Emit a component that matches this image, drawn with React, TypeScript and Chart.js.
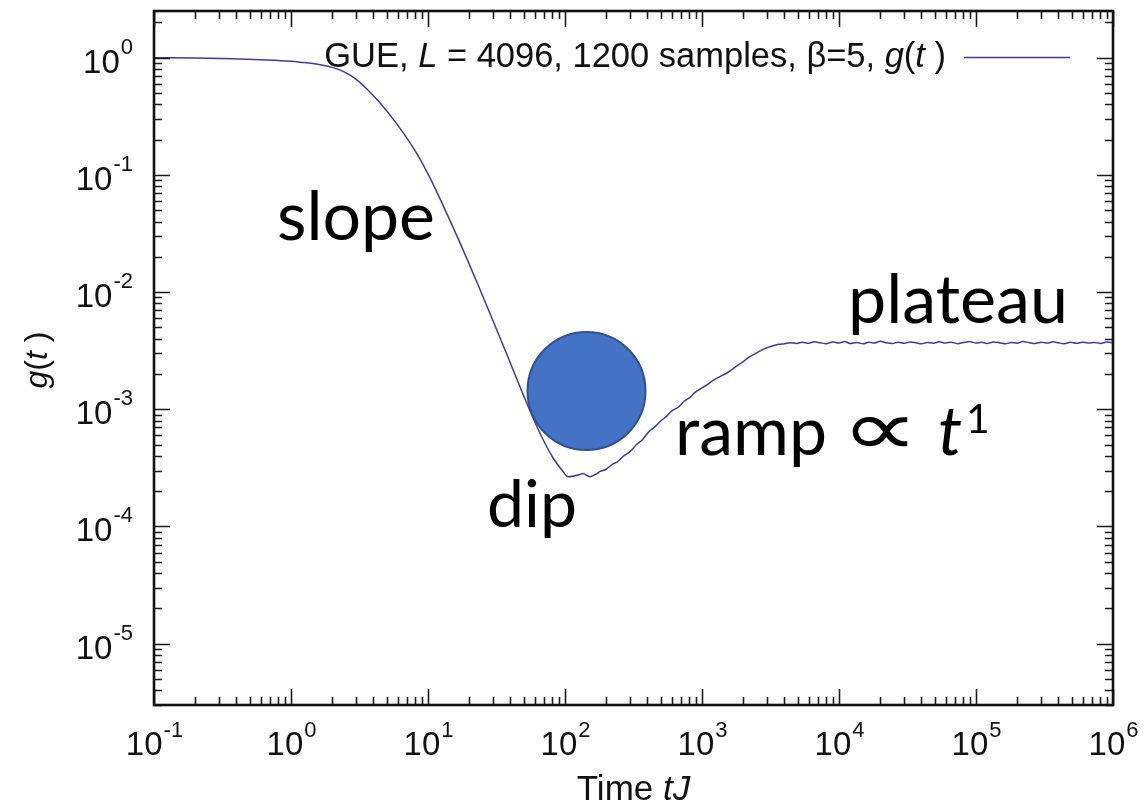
import React, { useEffect, useRef } from "react";
import { Chart, registerables } from "chart.js";

Chart.register(...registerables);

// ---- data ----
const tValues: number[] = [
  0.1, 0.2, 0.378, 0.6, 1.0, 1.16, 1.6, 2.03, 2.4, 2.7, 3.1, 3.58, 4.47, 5.94, 8.31, 10.3, 12.9, 17.1, 22.8, 28.4,
  37.8, 47, 55.6, 65.8, 81.7, 96.7, 105, 128, 135, 152, 171,
  180, 200, 220, 240, 270, 300, 330, 370, 410, 450, 500, 550, 600, 670, 740, 820, 900,
  1000, 1100, 1200, 1350, 1500, 1650, 1800, 2000, 2200, 2450, 2700, 3000, 3300, 3650, 4000, 4400,
  4900, 5400, 6000, 6600, 7300, 8100, 9000,
  10000, 11000, 12000, 13500, 15000, 16500, 18000, 20000, 22000, 24500, 27000, 30000, 33000, 36500,
  40000, 44000, 49000, 54000, 60000, 66000, 73000, 81000, 90000,
  100000, 110000, 120000, 135000, 150000, 165000, 180000, 200000, 220000, 245000, 270000, 300000,
  330000, 365000, 400000, 440000, 490000, 540000, 600000, 660000, 730000, 810000, 900000, 1000000,
];

const gValues: number[] = [
  1.0, 0.995, 0.978, 0.958, 0.93, 0.915, 0.875, 0.822, 0.764, 0.708, 0.63, 0.541, 0.41, 0.271, 0.151, 0.0951, 0.0547,
  0.0264, 0.01205, 6.53e-3,
  2.9e-3, 1.55e-3, 9.7e-4, 6.22e-4, 3.86e-4, 2.95e-4, 2.66e-4, 2.77e-4, 2.83e-4, 2.66e-4, 2.83e-4,
  2.95e-4, 3.08e-4, 3.38e-4, 3.55e-4, 4.02e-4, 4.38e-4, 4.95e-4, 5.55e-4, 6.45e-4, 7.05e-4, 7.95e-4,
  8.7e-4, 9.65e-4, 1.04e-3, 1.17e-3, 1.27e-3, 1.41e-3,
  1.52e-3, 1.63e-3, 1.76e-3, 1.9e-3, 2.02e-3, 2.18e-3, 2.35e-3, 2.55e-3, 2.78e-3, 2.98e-3, 3.18e-3,
  3.36e-3, 3.48e-3, 3.58e-3, 3.62e-3, 3.7e-3,
  3.64e-3, 3.74e-3, 3.66e-3, 3.76e-3, 3.69e-3, 3.63e-3, 3.75e-3,
  3.68e-3, 3.78e-3, 3.65e-3, 3.72e-3, 3.62e-3, 3.74e-3, 3.67e-3, 3.8e-3, 3.7e-3, 3.64e-3, 3.73e-3,
  3.66e-3, 3.75e-3, 3.69e-3,
  3.62e-3, 3.72e-3, 3.66e-3, 3.76e-3, 3.68e-3, 3.74e-3, 3.63e-3, 3.71e-3, 3.78e-3,
  3.67e-3, 3.73e-3, 3.65e-3, 3.75e-3, 3.68e-3, 3.62e-3, 3.72e-3, 3.66e-3, 3.79e-3, 3.7e-3, 3.64e-3,
  3.74e-3, 3.67e-3, 3.76e-3, 3.69e-3, 3.63e-3, 3.73e-3, 3.66e-3, 3.74e-3, 3.68e-3, 3.72e-3, 3.65e-3,
  3.75e-3, 3.68e-3,
];

const xTickExponents: number[] = [-1, 0, 1, 2, 3, 4, 5, 6];
const yTickExponents: number[] = [0, -1, -2, -3, -4, -5];
const xRange: number[] = [0.1, 1e6];
const yRange: number[] = [3e-6, 2.5];

const legendParts: [string, boolean][] = [
  ["GUE, ", false],
  ["L", true],
  [" = 4096, 1200 samples, \u03b2=5, ", false],
  ["g", true],
  ["(", false],
  ["t", true],
  [" )", false],
];
const xTitleParts: [string, boolean][] = [
  ["Time ", false],
  ["tJ", true],
];
const yTitleParts: [string, boolean][] = [
  ["g", true],
  ["(", false],
  ["t", true],
  [" )", false],
];
const annotationWords: string[] = ["slope", "dip", "ramp", "plateau"];

const LINE_COLOR = "rgb(64,58,160)";
const SANS = "'Liberation Sans', Arial, Helvetica, sans-serif";
const ANN = "Lato, 'Open Sans', sans-serif";

function measureParts(ctx: CanvasRenderingContext2D, parts: [string, boolean][], size: number) {
  return parts.map(([s, it]) => {
    ctx.font = `${it ? "italic " : ""}${size}px ${SANS}`;
    return ctx.measureText(s).width;
  });
}

function drawParts(ctx: CanvasRenderingContext2D, parts: [string, boolean][], size: number, x: number, y: number, align: "left" | "center" | "right") {
  const widths = measureParts(ctx, parts, size);
  const total = widths.reduce((a, b) => a + b, 0);
  let cx = align === "left" ? x : align === "center" ? x - total / 2 : x - total;
  ctx.textAlign = "left";
  parts.forEach(([s, it], i) => {
    ctx.font = `${it ? "italic " : ""}${size}px ${SANS}`;
    ctx.fillText(s, cx, y);
    cx += widths[i];
  });
  return total;
}

function fitSize(ctx: CanvasRenderingContext2D, text: string, family: string, target: number, style = "") {
  ctx.font = `${style} 100px ${family}`;
  const w = ctx.measureText(text).width;
  return (100 * target) / w;
}

// draw a glyph stretched into a box
function drawGlyphInBox(ctx: CanvasRenderingContext2D, glyph: string, family: string, x0: number, y0: number, x1: number, y1: number) {
  ctx.save();
  ctx.font = `60px ${family}`;
  ctx.textAlign = "left";
  ctx.textBaseline = "alphabetic";
  const m = ctx.measureText(glyph);
  const gw = (m.actualBoundingBoxLeft || 0) + (m.actualBoundingBoxRight || 40);
  const gh = (m.actualBoundingBoxAscent || 30) + (m.actualBoundingBoxDescent || 0);
  ctx.translate(x0, y1);
  ctx.scale((x1 - x0) / gw, (y1 - y0) / gh);
  ctx.fillText(glyph, m.actualBoundingBoxLeft || 0, -(m.actualBoundingBoxDescent || 0));
  ctx.restore();
}

const overlayPlugin = {
  id: "overlay",
  afterDatasetsDraw(chart: any) {
    const ctx: CanvasRenderingContext2D = chart.ctx;
    const xs = chart.scales.x;
    const ys = chart.scales.y;
    const { left, right, top, bottom } = chart.chartArea;
    ctx.save();

    // blue circle marker (overlay)
    ctx.beginPath();
    ctx.arc(586.5, 391, 59, 0, Math.PI * 2);
    ctx.fillStyle = "#4472C4";
    ctx.fill();
    ctx.lineWidth = 2;
    ctx.strokeStyle = "#2F528F";
    ctx.stroke();

    // ticks (inward, mirrored)
    ctx.strokeStyle = "#1a1a1a";
    ctx.lineWidth = 1.6;
    ctx.beginPath();
    for (let d = -1; d <= 6; d++) {
      for (let m = 1; m <= 9; m++) {
        const v = m * Math.pow(10, d);
        if (v < xRange[0] * 0.999 || v > xRange[1] * 1.001) continue;
        const px = Math.round(xs.getPixelForValue(v)) + 0.5;
        const len = m === 1 ? 16 : 8;
        ctx.moveTo(px, bottom);
        ctx.lineTo(px, bottom - len);
        ctx.moveTo(px, top);
        ctx.lineTo(px, top + len);
      }
    }
    for (let d = -6; d <= 0; d++) {
      for (let m = 1; m <= 9; m++) {
        const v = m * Math.pow(10, d);
        if (v < yRange[0] * 0.999 || v > yRange[1] * 1.001) continue;
        const py = Math.round(ys.getPixelForValue(v)) + 0.5;
        const len = m === 1 ? 16 : 8;
        ctx.moveTo(left, py);
        ctx.lineTo(left + len, py);
        ctx.moveTo(right, py);
        ctx.lineTo(right - len, py);
      }
    }
    ctx.stroke();

    // frame
    ctx.lineWidth = 2.6;
    ctx.strokeStyle = "#111";
    ctx.strokeRect(left, top, right - left, bottom - top);

    // tick labels
    ctx.fillStyle = "#111";
    ctx.textBaseline = "alphabetic";
    const baseFont = `33px ${SANS}`;
    const supFont = `22px ${SANS}`;
    xTickExponents.forEach((e) => {
      const px = xs.getPixelForValue(Math.pow(10, e));
      ctx.font = baseFont;
      const wb = ctx.measureText("10").width;
      ctx.font = supFont;
      const we = ctx.measureText(String(e)).width;
      const x0 = px - (wb + we) / 2;
      ctx.textAlign = "left";
      ctx.font = baseFont;
      ctx.fillText("10", x0, 755);
      ctx.font = supFont;
      ctx.fillText(String(e), x0 + wb + 1, 737);
    });
    yTickExponents.forEach((e) => {
      const py = ys.getPixelForValue(Math.pow(10, e));
      ctx.font = supFont;
      const we = ctx.measureText(String(e)).width;
      ctx.font = baseFont;
      const wb = ctx.measureText("10").width;
      const xr = 133;
      ctx.textAlign = "left";
      ctx.font = baseFont;
      ctx.fillText("10", xr - we - wb - 1, py + 15);
      ctx.font = supFont;
      ctx.fillText(String(e), xr - we, py - 4);
    });

    // axis titles
    drawParts(ctx, xTitleParts, 35, (left + right) / 2, 800, "center");
    ctx.save();
    ctx.translate(47, 360);
    ctx.rotate(-Math.PI / 2);
    drawParts(ctx, yTitleParts, 32, 0, 0, "center");
    ctx.restore();

    // legend (fit to the reference text span)
    ctx.fillStyle = "#111";
    const w100 = measureParts(ctx, legendParts, 100).reduce((a, b) => a + b, 0);
    const legendSize = (100 * 622) / w100;
    drawParts(ctx, legendParts, legendSize, 946, 67, "right");
    ctx.beginPath();
    ctx.strokeStyle = LINE_COLOR;
    ctx.lineWidth = 1.5;
    ctx.moveTo(964, 57.5);
    ctx.lineTo(1070, 57.5);
    ctx.stroke();

    // annotations
    ctx.fillStyle = "#000";
    ctx.textAlign = "left";
    const [wSlope, wDip, wRamp, wPlateau] = annotationWords;
    let s = fitSize(ctx, wSlope, ANN, 158);
    ctx.font = `${s}px ${ANN}`;
    ctx.fillText(wSlope, 277, 240);
    s = fitSize(ctx, wDip, ANN, 90);
    ctx.font = `${s}px ${ANN}`;
    ctx.fillText(wDip, 487, 527);
    s = fitSize(ctx, wPlateau, ANN, 220);
    ctx.font = `${s}px ${ANN}`;
    ctx.fillText(wPlateau, 848, 323);
    s = fitSize(ctx, wRamp, ANN, 152);
    ctx.font = `${s}px ${ANN}`;
    ctx.fillText(wRamp, 675, 455);
    drawGlyphInBox(ctx, "\u221d", ANN, 852, 416, 908, 447);
    ctx.textAlign = "left";
    ctx.font = `italic ${s}px ${ANN}`;
    ctx.fillText("t", 938, 455);
    ctx.font = `${s * 0.6}px ${ANN}`;
    ctx.fillText("1", 966, 433);

    ctx.restore();
  },
};

export default function App() {
  const canvasRef = useRef<HTMLCanvasElement | null>(null);

  useEffect(() => {
    if (!canvasRef.current) return;
    const points = tValues.map((t, i) => ({ x: t, y: gValues[i] }));
    const chart = new Chart(canvasRef.current, {
      type: "line",
      data: {
        datasets: [
          {
            data: points,
            borderColor: LINE_COLOR,
            borderWidth: 1.5,
            pointRadius: 0,
            cubicInterpolationMode: "monotone",
            fill: false,
          },
        ],
      },
      options: {
        animation: false,
        responsive: false,
        devicePixelRatio: 1,
        layout: { padding: { left: 154, right: 32, top: 11, bottom: 102 } },
        plugins: { legend: { display: false }, tooltip: { enabled: false } },
        scales: {
          x: { type: "logarithmic", min: xRange[0], max: xRange[1], display: false },
          y: { type: "logarithmic", min: yRange[0], max: yRange[1], display: false },
        },
      },
      plugins: [overlayPlugin],
    });
    return () => chart.destroy();
  }, []);

  return (
    <div style={{ position: "absolute", left: 0, top: 0, width: 1145, height: 807, background: "#fff" }}>
      <canvas ref={canvasRef} width={1145} height={807} style={{ display: "block" }} />
    </div>
  );
}
